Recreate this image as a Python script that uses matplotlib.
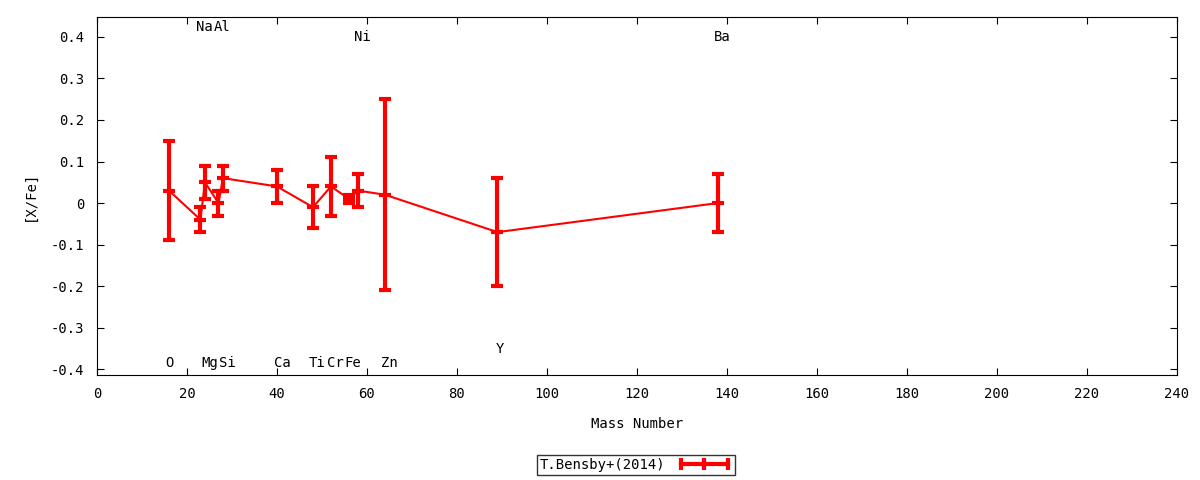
import numpy as np
import matplotlib.pyplot as plt
from matplotlib.lines import Line2D

plt.rcParams['font.family'] = ['DejaVu Sans Mono']
plt.rcParams['font.size'] = 10

# mass number, [X/Fe] and errors (T.Bensby+ 2014)
mass = [16, 23, 24, 27, 28, 40, 48, 52, 56, 58, 64, 89, 138]
xfe = [0.03, -0.04, 0.05, 0.00, 0.06, 0.04, -0.01, 0.04, 0.01, 0.03, 0.02, -0.07, 0.00]
err = [0.12, 0.03, 0.04, 0.03, 0.03, 0.04, 0.05, 0.07, 0.01, 0.04, 0.23, 0.13, 0.07]

# element labels (x, y position in data units)
elem = ['O', 'Na', 'Mg', 'Al', 'Si', 'Ca', 'Ti', 'Cr', 'Fe', 'Ni', 'Zn', 'Y', 'Ba']
lab_x = [16.2, 23.9, 25.1, 27.9, 28.9, 41.1, 49.0, 52.9, 56.8, 58.9, 65.0, 89.5, 138.9]
lab_y = [-0.386, 0.424, -0.386, 0.424, -0.386, -0.386, -0.386, -0.386, -0.386, 0.4, -0.386, -0.352, 0.4]

fig = plt.figure(figsize=(12, 4.8), dpi=100)
ax = fig.add_axes([0.0808, 0.21875, 0.9, 0.7459])

ax.errorbar(mass, xfe, yerr=err, color='#ff0000', lw=1.5, elinewidth=3,
            capsize=4, capthick=3, marker='_', ms=9, mew=3)

for e, x, y in zip(elem, lab_x, lab_y):
    ax.text(x, y, e, ha='center', va='center', fontsize=10)

ax.set_xlim(0, 240)
ax.set_ylim(-0.414, 0.448)
ax.set_xticks(np.arange(0, 241, 20))
ax.set_yticks(np.arange(-0.4, 0.41, 0.1))
ax.set_yticklabels(['-0.4', '-0.3', '-0.2', '-0.1', '0', '0.1', '0.2', '0.3', '0.4'])
ax.tick_params(direction='in', top=True, right=True, length=5, pad=9)
ax.set_xlabel('Mass Number', labelpad=11)
ax.set_ylabel('[X/Fe]', labelpad=10)

# gnuplot-like key: thick line with small vertical ticks
h = Line2D([], [], color='#ff0000', lw=3, marker='|', ms=9, mew=3)
leg = fig.legend([h], ['T.Bensby+(2014)'], loc='center',
                 bbox_to_anchor=(0.53, 1 - 465 / 480), frameon=True,
                 fancybox=False, edgecolor='black', markerfirst=False,
                 numpoints=3, handlelength=4, borderpad=0.2,
                 borderaxespad=0)
leg.get_frame().set_linewidth(1)

fig.savefig('out.png')
